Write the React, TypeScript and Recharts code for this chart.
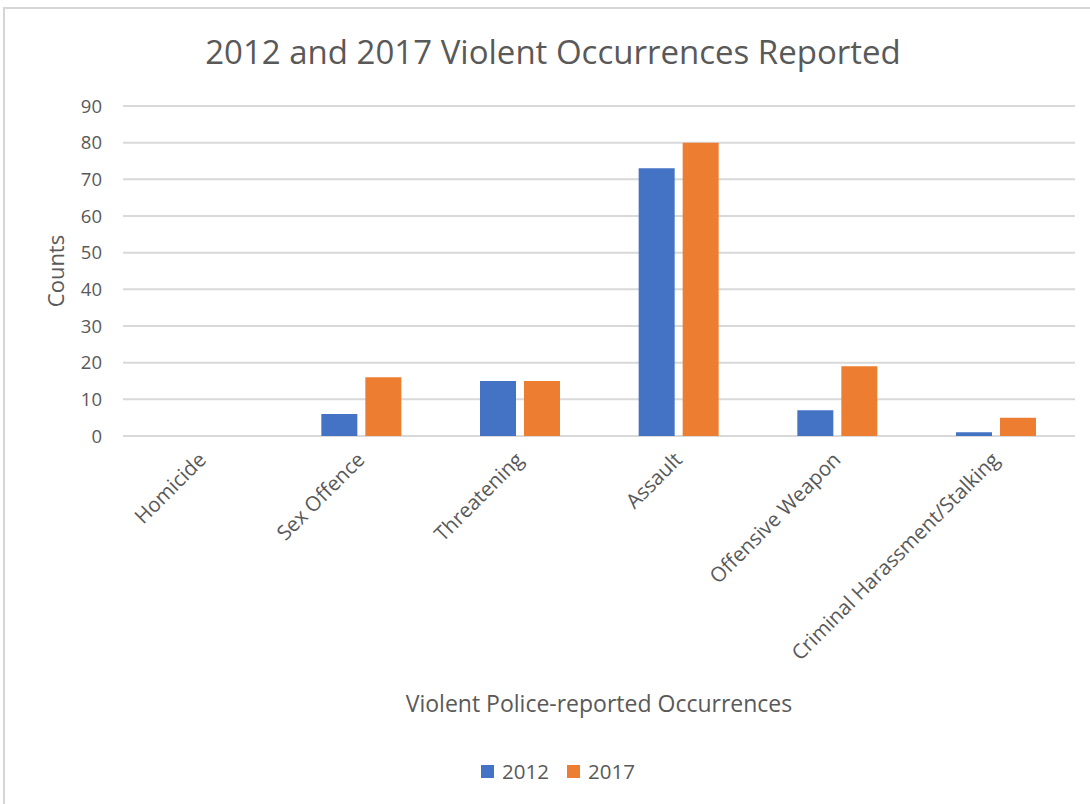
import { BarChart, Bar, XAxis, YAxis, CartesianGrid, Legend, Label } from "recharts";

const CATEGORIES = [
  "Homicide",
  "Sex Offence",
  "Threatening",
  "Assault",
  "Offensive Weapon",
  "Criminal Harassment/Stalking",
];
const COUNTS_2012 = [0, 6, 15, 73, 7, 1];
const COUNTS_2017 = [0, 16, 15, 80, 19, 5];
const Y_TICKS = [0, 10, 20, 30, 40, 50, 60, 70, 80, 90];

const COLORS = {
  blue: "#4472C4",
  orange: "#ED7D31",
  text: "#595959",
  grid: "#D9D9D9",
  border: "#D6D6D6",
};

const FONT = "'Open Sans', sans-serif";

const data = CATEGORIES.map((name, i) => ({
  name,
  y2012: COUNTS_2012[i],
  y2017: COUNTS_2017[i],
}));

function CategoryTick({ x, y, payload }: any) {
  const ax = x + 5;
  const ay = y + 17;
  return (
    <text
      x={ax}
      y={ay}
      transform={`rotate(-45, ${ax}, ${ay})`}
      textAnchor="end"
      fill={COLORS.text}
      fontSize={20.5}
      fontFamily={FONT}
    >
      {payload.value}
    </text>
  );
}

function LegendContent({ payload }: any) {
  return (
    <div
      style={{
        display: "flex",
        justifyContent: "center",
        alignItems: "center",
        gap: 18,
      }}
    >
      {(payload || []).map((entry: any) => (
        <div
          key={entry.value}
          style={{ display: "flex", alignItems: "center", gap: 8 }}
        >
          <span
            style={{
              display: "inline-block",
              width: 13,
              height: 13,
              background: entry.color,
            }}
          />
          <span
            style={{
              color: COLORS.text,
              fontSize: 20.5,
              fontFamily: FONT,
              lineHeight: "26px",
            }}
          >
            {entry.value}
          </span>
        </div>
      ))}
    </div>
  );
}

export default function App() {
  return (
    <div
      style={{
        position: "absolute",
        left: 0,
        top: 0,
        width: 1090,
        height: 804,
        background: "#fff",
        overflow: "hidden",
      }}
    >
      <div
        style={{
          position: "absolute",
          left: 3,
          top: 7,
          width: 1100,
          height: 820,
          border: `2px solid ${COLORS.border}`,
          boxSizing: "border-box",
        }}
      />
      <div
        style={{
          position: "absolute",
          left: 0,
          top: 29,
          width: 1106,
          textAlign: "center",
          fontFamily: FONT,
          fontSize: 33,
          color: COLORS.text,
        }}
      >
        2012 and 2017 Violent Occurrences Reported
      </div>
      <BarChart
        width={1090}
        height={804}
        data={data}
        margin={{ top: 106, right: 15, left: 40, bottom: 0 }}
        barCategoryGap="25%"
        barGap={8}
        style={{ position: "absolute", left: 0, top: 0 }}
      >
        <CartesianGrid vertical={false} stroke={COLORS.grid} strokeWidth={2} />
        <XAxis
          dataKey="name"
          height={368}
          axisLine={false}
          tickLine={false}
          interval={0}
          tick={<CategoryTick />}
        >
          <Label
            value="Violent Police-reported Occurrences"
            position="insideBottom"
            offset={92}
            fill={COLORS.text}
            fontSize={23}
            fontFamily={FONT}
          />
        </XAxis>
        <YAxis
          width={83}
          domain={[0, 90]}
          ticks={Y_TICKS}
          axisLine={false}
          tickLine={false}
          tickMargin={15}
          tick={{ fill: COLORS.text, fontSize: 18.5, fontFamily: FONT }}
        >
          <Label
            value="Counts"
            angle={-90}
            position="center"
            dx={-25}
            fill={COLORS.text}
            fontSize={22}
            fontFamily={FONT}
          />
        </YAxis>
        <Legend
          verticalAlign="middle"
          layout="horizontal"
          wrapperStyle={{ top: 758, left: 0, width: 1116 }}
          content={<LegendContent />}
        />
        <Bar
          dataKey="y2012"
          name="2012"
          fill={COLORS.blue}
          isAnimationActive={false}
        />
        <Bar
          dataKey="y2017"
          name="2017"
          fill={COLORS.orange}
          isAnimationActive={false}
        />
      </BarChart>
    </div>
  );
}
